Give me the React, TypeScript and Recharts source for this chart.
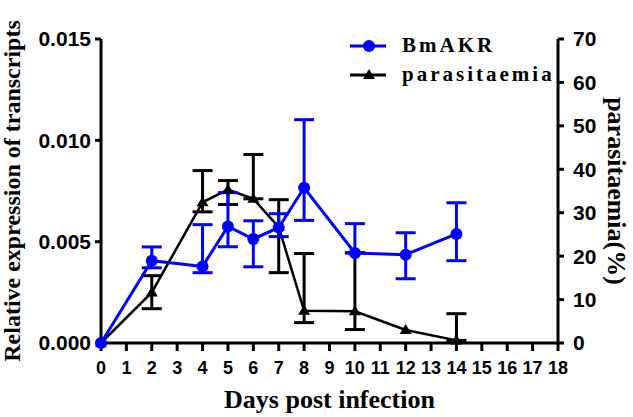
import React from "react"
import {
  ComposedChart,
  Line,
  XAxis,
  YAxis,
  ErrorBar,
  Legend,
} from "recharts"

// days post infection
const days = [0, 2, 4, 5, 6, 7, 8, 10, 12, 14]

// BmAKR relative expression (left axis) with lower / upper error
const bmakr = [0, 0.00406, 0.00378, 0.00575, 0.00513, 0.0057, 0.00766, 0.00444, 0.00436, 0.00538]
const bmakrLow = [0, 0.00371, 0.00347, 0.00475, 0.00376, 0.00525, 0.00605, 0.00444, 0.00317, 0.00406]
const bmakrHigh = [0, 0.00474, 0.00584, 0.00742, 0.00603, 0.00638, 0.01102, 0.00589, 0.00544, 0.00692]

// parasitaemia % (right axis) with lower / upper error
const parasit = [0, 11.65, 32.4, 35.3, 33.2, 26.7, 7.4, 7.3, 3.0, 0.6]
const parasitLow = [0, 7.9, 30.2, 31.9, 33.2, 16.2, 4.7, 3.1, 3.0, 0.6]
const parasitHigh = [0, 15.5, 39.7, 37.4, 43.4, 33.0, 20.6, 20.8, 3.0, 6.75]

const xTicks = Array.from({ length: 19 }, (_, i) => i)
const leftTicks = [0, 0.005, 0.01, 0.015]
const rightTicks = [0, 10, 20, 30, 40, 50, 60, 70]

const legendItems = [
  { name: "BmAKR", color: "#0000ff", shape: "circle" },
  { name: "parasitaemia", color: "#000000", shape: "triangle" },
]

const data = days.map((d, i) => ({
  day: d,
  bmakr: bmakr[i],
  bErr:
    bmakrHigh[i] - bmakr[i] === 0 && bmakr[i] - bmakrLow[i] === 0
      ? null
      : [bmakr[i] - bmakrLow[i], bmakrHigh[i] - bmakr[i]],
  parasit: parasit[i],
  pErr:
    parasitHigh[i] - parasit[i] === 0 && parasit[i] - parasitLow[i] === 0
      ? null
      : [parasit[i] - parasitLow[i], parasitHigh[i] - parasit[i]],
}))

const sans = "'Liberation Sans', Arial, sans-serif"
const serif = "'Liberation Serif', 'Times New Roman', serif"

const Triangle = (props: any) => {
  const { cx, cy, index } = props
  if (cx == null || cy == null) return <g key={`t-${index}`} />
  return (
    <polygon
      key={`t-${index}`}
      points={`${cx},${cy - 6} ${cx - 6},${cy + 4} ${cx + 6},${cy + 4}`}
      fill="#000"
    />
  )
}

const renderLegend = () => (
  <div style={{ fontFamily: serif, fontWeight: "bold", fontSize: 21, letterSpacing: 3 }}>
    {legendItems.map((it) => (
      <div key={it.name} style={{ display: "flex", alignItems: "center", height: 29 }}>
        <svg width={36} height={16}>
          <line x1={0} y1={8} x2={36} y2={8} stroke={it.color} strokeWidth={3} />
          {it.shape === "circle" ? (
            <circle cx={19} cy={8} r={6} fill={it.color} />
          ) : (
            <polygon points="19,2 13,12 25,12" fill={it.color} />
          )}
        </svg>
        <span style={{ marginLeft: 16, color: "#000" }}>{it.name}</span>
      </div>
    ))}
  </div>
)

export default function App() {
  const tickStyle = { fill: "#000", fontFamily: sans, fontWeight: "bold" }
  return (
    <div style={{ position: "absolute", left: 0, top: 0, background: "#fff" }}>
      <ComposedChart
        width={633}
        height={417}
        data={data}
        margin={{ top: 39, right: 0, bottom: 0, left: 0 }}
      >
        <XAxis
          dataKey="day"
          type="number"
          domain={[0, 18]}
          ticks={xTicks}
          interval={0}
          height={74}
          tickSize={8}
          tickMargin={10}
          axisLine={{ stroke: "#000", strokeWidth: 3 }}
          tickLine={{ stroke: "#000", strokeWidth: 3 }}
          tick={{ ...tickStyle, fontSize: 18 }}
          label={{
            value: "Days post infection",
            position: "insideBottom",
            offset: 9,
            style: { fill: "#000", fontFamily: serif, fontWeight: "bold", fontSize: 26 },
          }}
        />
        <YAxis
          yAxisId="left"
          domain={[0, 0.015]}
          ticks={leftTicks}
          width={101}
          tickSize={6}
          tickMargin={4}
          tickFormatter={(v: number) => v.toFixed(3)}
          axisLine={{ stroke: "#000", strokeWidth: 3 }}
          tickLine={{ stroke: "#000", strokeWidth: 3 }}
          tick={{ ...tickStyle, fontSize: 21 }}
          label={{
            value: "Relative expression of transcripts",
            angle: -90,
            position: "insideLeft",
            offset: 11,
            style: {
              textAnchor: "middle",
              fill: "#000",
              fontFamily: serif,
              fontWeight: "bold",
              fontSize: 24,
            },
          }}
        />
        <YAxis
          yAxisId="right"
          orientation="right"
          domain={[0, 70]}
          ticks={rightTicks}
          width={75}
          tickSize={6}
          tickMargin={9}
          axisLine={{ stroke: "#000", strokeWidth: 3 }}
          tickLine={{ stroke: "#000", strokeWidth: 3 }}
          tick={{ ...tickStyle, fontSize: 21 }}
          label={{
            value: "parasitaemia(%)",
            angle: 90,
            position: "insideRight",
            offset: 16,
            style: {
              textAnchor: "middle",
              fill: "#000",
              fontFamily: serif,
              fontWeight: "bold",
              fontSize: 26,
            },
          }}
        />
        <Legend
          content={renderLegend}
          layout="horizontal"
          verticalAlign="middle"
          align="center"
          wrapperStyle={{ position: "absolute", left: 350, top: 31, width: "auto" }}
        />
        <Line
          yAxisId="right"
          dataKey="parasit"
          stroke="#000"
          strokeWidth={2.5}
          dot={Triangle}
          activeDot={false}
          isAnimationActive={false}
        >
          <ErrorBar dataKey="pErr" direction="y" width={10} strokeWidth={3} stroke="#000" />
        </Line>
        <Line
          yAxisId="left"
          dataKey="bmakr"
          stroke="#0000ff"
          strokeWidth={3}
          dot={{ r: 6, fill: "#0000ff", stroke: "#0000ff", strokeWidth: 0 }}
          activeDot={false}
          isAnimationActive={false}
        >
          <ErrorBar dataKey="bErr" direction="y" width={10} strokeWidth={3} stroke="#0000ff" />
        </Line>
      </ComposedChart>
    </div>
  )
}
